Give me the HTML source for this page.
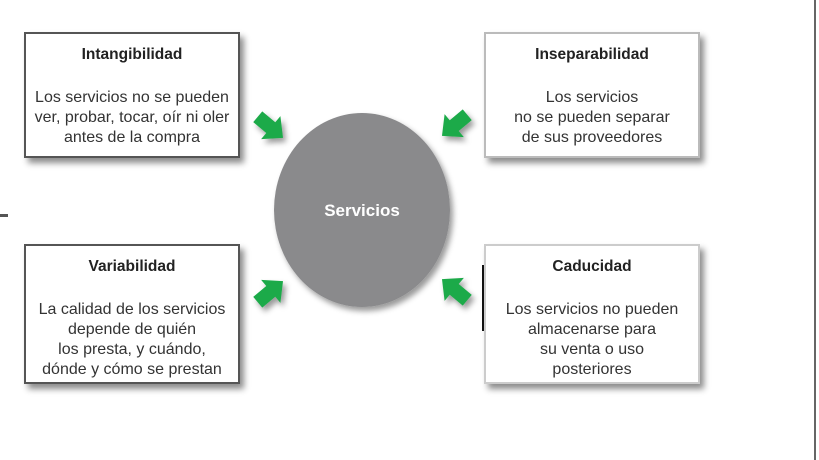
<!DOCTYPE html>
<html><head><meta charset="utf-8"><style>
body{margin:0;width:819px;height:460px;background:#fff;position:relative;overflow:hidden;font-family:"Liberation Sans",Arial,sans-serif;}
.box{position:absolute;background:#fff;border:2px solid #555;box-shadow:4px 5px 6px rgba(0,0,0,0.45);box-sizing:border-box;text-align:center;color:#333;font-size:16px;line-height:20px;}
.box b{display:block;color:#222;margin-top:11px;margin-bottom:23px;font-size:15.5px;}
</style></head><body>
<div class="box" style="left:24px;top:32px;width:216px;height:126px;"><b>Intangibilidad</b>Los servicios no se pueden<br>ver, probar, tocar, oír ni oler<br>antes de la compra</div>
<div class="box" style="left:484px;top:32px;width:216px;height:126px;border-color:#bbb;"><b>Inseparabilidad</b>Los servicios<br>no se pueden separar<br>de sus proveedores</div>
<div class="box" style="left:24px;top:244px;width:216px;height:140px;"><b>Variabilidad</b>La calidad de los servicios<br>depende de quién<br>los presta, y cuándo,<br>dónde y cómo se prestan</div>
<div class="box" style="left:484px;top:244px;width:216px;height:140px;border-color:#ccc;"><b>Caducidad</b>Los servicios no pueden<br>almacenarse para<br>su venta o uso<br>posteriores</div>
<div style="position:absolute;left:482px;top:265px;width:2px;height:66px;background:#111"></div>
<div style="position:absolute;left:814px;top:0;width:2px;height:460px;background:#666"></div>
<div style="position:absolute;left:0;top:214px;width:8px;height:3px;background:#555"></div>
<svg width="819" height="460" style="position:absolute;left:0;top:0">
<defs><filter id="s"><feDropShadow dx="3" dy="4" stdDeviation="3" flood-opacity="0.4"/></filter>
<g id="ar"><polygon points="-16,-7 1,-7 1,-15 17,0 1,15 1,7 -16,7" fill="#1faa4a"/></g></defs>
<ellipse cx="362" cy="210" rx="88" ry="97" fill="#8a8a8c" filter="url(#s)"/>
<text x="362" y="216" text-anchor="middle" fill="#fff" font-weight="bold" font-size="17" font-family="Liberation Sans,sans-serif">Servicios</text>
<g filter="url(#s)">
<use href="#ar" transform="translate(270,127) rotate(40)"/>
<use href="#ar" transform="translate(455,125) rotate(140)"/>
<use href="#ar" transform="translate(270,292) rotate(-40)"/>
<use href="#ar" transform="translate(455,290) rotate(-140)"/>
</g>
</svg>
</body></html>
